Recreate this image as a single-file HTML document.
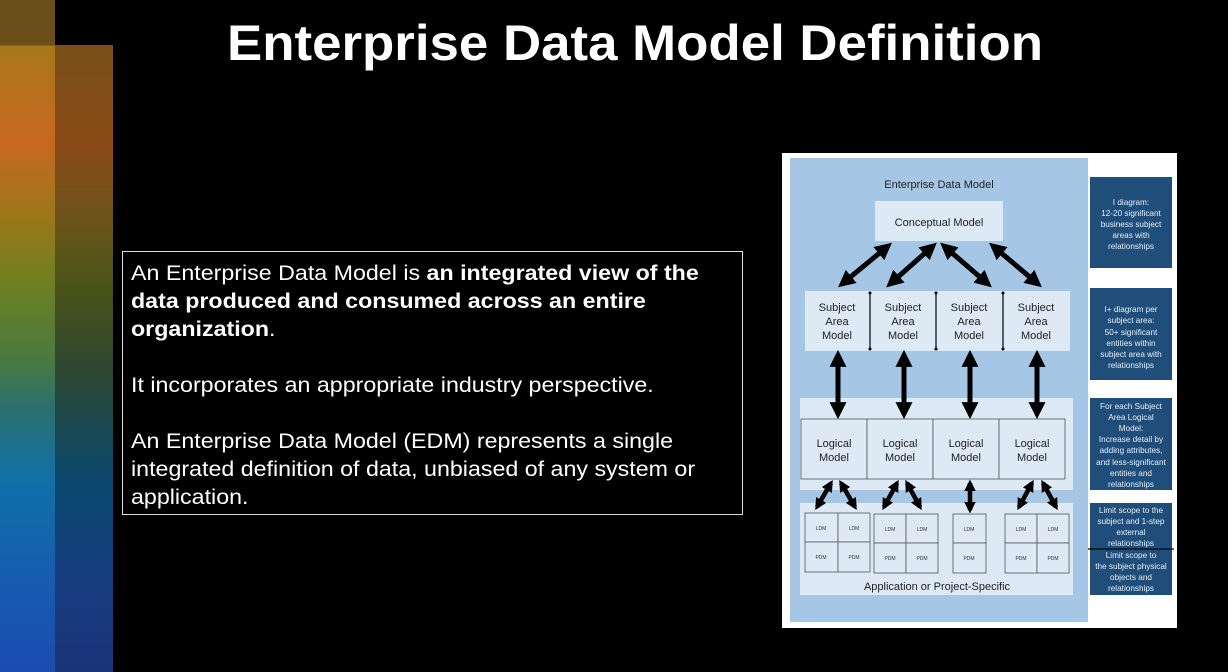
<!DOCTYPE html>
<html><head><meta charset="utf-8"><style>
html,body{margin:0;padding:0;background:#000;}
body{width:1228px;height:672px;overflow:hidden;position:relative;font-family:"Liberation Sans",sans-serif;}
.b1{position:absolute;left:0;top:0;width:55px;height:672px;background:linear-gradient(to bottom,#6a5018 0,#6a5018 45px,#a87818 46px,#c86820 140px,#9a7818 220px,#708020 280px,#4a7a40 360px,#2a7070 410px,#1070a8 480px,#1858b0 600px,#1a4cb0 672px);}
.b2{position:absolute;left:55px;top:45px;width:58px;height:627px;background:linear-gradient(to bottom,#7a5018 0,#8a4a18 100px,#6a5418 180px,#4a5418 240px,#304830 320px,#1a4850 380px,#0a4870 440px,#183a80 560px,#1a3478 627px);}
.tb{position:absolute;left:122px;top:251px;width:619px;height:262px;border:1px solid #ddd;}
.tb p{margin:0;position:absolute;left:8px;color:#fff;font-size:21.5px;line-height:28px;white-space:nowrap;transform:scaleX(1.08);transform-origin:0 0;}
</style></head><body>
<div class="b1"></div><div class="b2"></div>
<svg style="position:absolute;left:0;top:0" width="1228" height="672">
<text x="227" y="60" fill="#fff" font-family="Liberation Sans, sans-serif" font-weight="bold" font-size="50" textLength="816" lengthAdjust="spacingAndGlyphs">Enterprise Data Model Definition</text>
</svg>
<div class="tb">
<p style="top:7px">An Enterprise Data Model is <b>an integrated view of the</b></p>
<p style="top:35px"><b>data produced and consumed across an entire</b></p>
<p style="top:63px"><b>organization</b>.</p>
<p style="top:119px">It incorporates an appropriate industry perspective.</p>
<p style="top:175px">An Enterprise Data Model (EDM) represents a single</p>
<p style="top:203px">integrated definition of data, unbiased of any system or</p>
<p style="top:231px">application.</p>
</div>
<svg style="position:absolute;left:0;top:0" width="1228" height="672" font-family="Liberation Sans, sans-serif">
<defs>
<marker id="ah" viewBox="0 0 10 10" refX="7" refY="5" markerWidth="3.4" markerHeight="3.4" orient="auto-start-reverse"><path d="M0,0 L10,5 L0,10 z" fill="#000"/></marker>
<marker id="as" viewBox="0 0 10 10" refX="7" refY="5" markerWidth="2.6" markerHeight="2.6" orient="auto-start-reverse"><path d="M0,0 L10,5 L0,10 z" fill="#000"/></marker>
</defs>
<rect x="782" y="153" width="395" height="475" fill="#fff"/>
<rect x="790" y="158" width="298" height="464" fill="#a6c6e6"/>
<text x="939" y="188" font-size="11" text-anchor="middle" fill="#222">Enterprise Data Model</text>
<rect x="875" y="201" width="128" height="40" fill="#dde9f5"/>
<text x="939" y="226" font-size="11" text-anchor="middle" fill="#222">Conceptual Model</text>
<rect x="805" y="291" width="265" height="60" fill="#dde9f5"/>
<g stroke="#000" stroke-width="1.2"><line x1="870" y1="294" x2="870" y2="348"/><line x1="936" y1="294" x2="936" y2="348"/><line x1="1003" y1="294" x2="1003" y2="348"/></g>
<g fill="#000"><circle cx="870" cy="293" r="1.5"/><circle cx="870" cy="349" r="1.5"/><circle cx="936" cy="293" r="1.5"/><circle cx="936" cy="349" r="1.5"/><circle cx="1003" cy="293" r="1.5"/><circle cx="1003" cy="349" r="1.5"/></g>
<g font-size="11" text-anchor="middle" fill="#222">
<text x="837" y="311">Subject</text><text x="837" y="325">Area</text><text x="837" y="339">Model</text>
<text x="903" y="311">Subject</text><text x="903" y="325">Area</text><text x="903" y="339">Model</text>
<text x="969" y="311">Subject</text><text x="969" y="325">Area</text><text x="969" y="339">Model</text>
<text x="1036" y="311">Subject</text><text x="1036" y="325">Area</text><text x="1036" y="339">Model</text>
</g>
<rect x="800" y="398" width="273" height="92" fill="#dde9f5"/>
<g fill="#dde9f5" stroke="#555" stroke-width="0.8">
<rect x="801" y="419" width="66" height="60"/><rect x="867" y="419" width="66" height="60"/><rect x="933" y="419" width="66" height="60"/><rect x="999" y="419" width="66" height="60"/></g>
<g font-size="11" text-anchor="middle" fill="#222">
<text x="834" y="447">Logical</text><text x="834" y="461">Model</text>
<text x="900" y="447">Logical</text><text x="900" y="461">Model</text>
<text x="966" y="447">Logical</text><text x="966" y="461">Model</text>
<text x="1032" y="447">Logical</text><text x="1032" y="461">Model</text></g>
<rect x="800" y="503" width="273" height="92" fill="#dde9f5"/>
<g fill="#dde9f5" stroke="#555" stroke-width="0.8">
<rect x="805" y="513" width="33" height="29"/><rect x="838" y="513" width="32" height="29"/><rect x="805" y="542" width="33" height="30"/><rect x="838" y="542" width="32" height="30"/>
<rect x="874" y="514" width="32" height="29"/><rect x="906" y="514" width="32" height="29"/><rect x="874" y="543" width="32" height="30"/><rect x="906" y="543" width="32" height="30"/>
<rect x="953" y="514" width="33" height="29"/><rect x="953" y="543" width="33" height="30"/>
<rect x="1005" y="514" width="32" height="29"/><rect x="1037" y="514" width="32" height="29"/><rect x="1005" y="543" width="32" height="30"/><rect x="1037" y="543" width="32" height="30"/></g>
<g font-size="5" text-anchor="middle" fill="#333">
<text x="821" y="530">LDM</text><text x="854" y="530">LDM</text><text x="821" y="559">PDM</text><text x="854" y="559">PDM</text>
<text x="890" y="531">LDM</text><text x="922" y="531">LDM</text><text x="890" y="560">PDM</text><text x="922" y="560">PDM</text>
<text x="969" y="531">LDM</text><text x="969" y="560">PDM</text>
<text x="1021" y="531">LDM</text><text x="1053" y="531">LDM</text><text x="1021" y="560">PDM</text><text x="1053" y="560">PDM</text></g>
<text x="937" y="590" font-size="11" text-anchor="middle" fill="#222">Application or Project-Specific</text>
<g stroke="#000" stroke-width="5" marker-start="url(#ah)" marker-end="url(#ah)">
<line x1="888" y1="246" x2="842" y2="284"/>
<line x1="933" y1="246" x2="890" y2="284"/>
<line x1="944" y1="246" x2="988" y2="284"/>
<line x1="993" y1="246" x2="1038" y2="284"/>
<line x1="838" y1="355" x2="838" y2="414"/>
<line x1="904" y1="355" x2="904" y2="414"/>
<line x1="970" y1="355" x2="970" y2="414"/>
<line x1="1037" y1="355" x2="1037" y2="414"/>
</g>
<g stroke="#000" stroke-width="4.5" marker-start="url(#as)" marker-end="url(#as)">
<line x1="831" y1="483" x2="817" y2="507"/>
<line x1="841" y1="483" x2="855" y2="507"/>
<line x1="897" y1="483" x2="884" y2="507"/>
<line x1="907" y1="483" x2="920" y2="507"/>
<line x1="970" y1="483" x2="970" y2="510"/>
<line x1="1032" y1="483" x2="1019" y2="507"/>
<line x1="1043" y1="483" x2="1056" y2="507"/>
</g>
<g fill="#1f4e7a"><rect x="1090" y="177" width="82" height="91"/><rect x="1090" y="288" width="82" height="92"/><rect x="1090" y="398" width="82" height="92"/><rect x="1090" y="503" width="82" height="92"/></g>
<line x1="1088" y1="549" x2="1174" y2="549" stroke="#000" stroke-width="1.2"/>
<g font-size="8.2" text-anchor="middle" fill="#e8eef6">
<text x="1131" y="205">I diagram:</text><text x="1131" y="216">12-20 significant</text><text x="1131" y="227">business subject</text><text x="1131" y="238">areas with</text><text x="1131" y="249">relationships</text>
<text x="1131" y="312">I+ diagram per</text><text x="1131" y="323">subject area:</text><text x="1131" y="335">50+ significant</text><text x="1131" y="346">entities within</text><text x="1131" y="357">subject area with</text><text x="1131" y="368">relationships</text>
<text x="1131" y="409">For each Subject</text><text x="1131" y="420">Area Logical</text><text x="1131" y="431">Model:</text><text x="1131" y="442">Increase detail by</text><text x="1131" y="453">adding attributes,</text><text x="1131" y="465">and less-significant</text><text x="1131" y="476">entities and</text><text x="1131" y="487">relationships</text>
<text x="1131" y="513">Limit scope to the</text><text x="1131" y="524">subject and 1-step</text><text x="1131" y="535">external</text><text x="1131" y="546">relationships</text>
<text x="1131" y="558">Limit scope to</text><text x="1131" y="569">the subject physical</text><text x="1131" y="580">objects and</text><text x="1131" y="591">relationships</text>
</g>
</svg>
</body></html>
